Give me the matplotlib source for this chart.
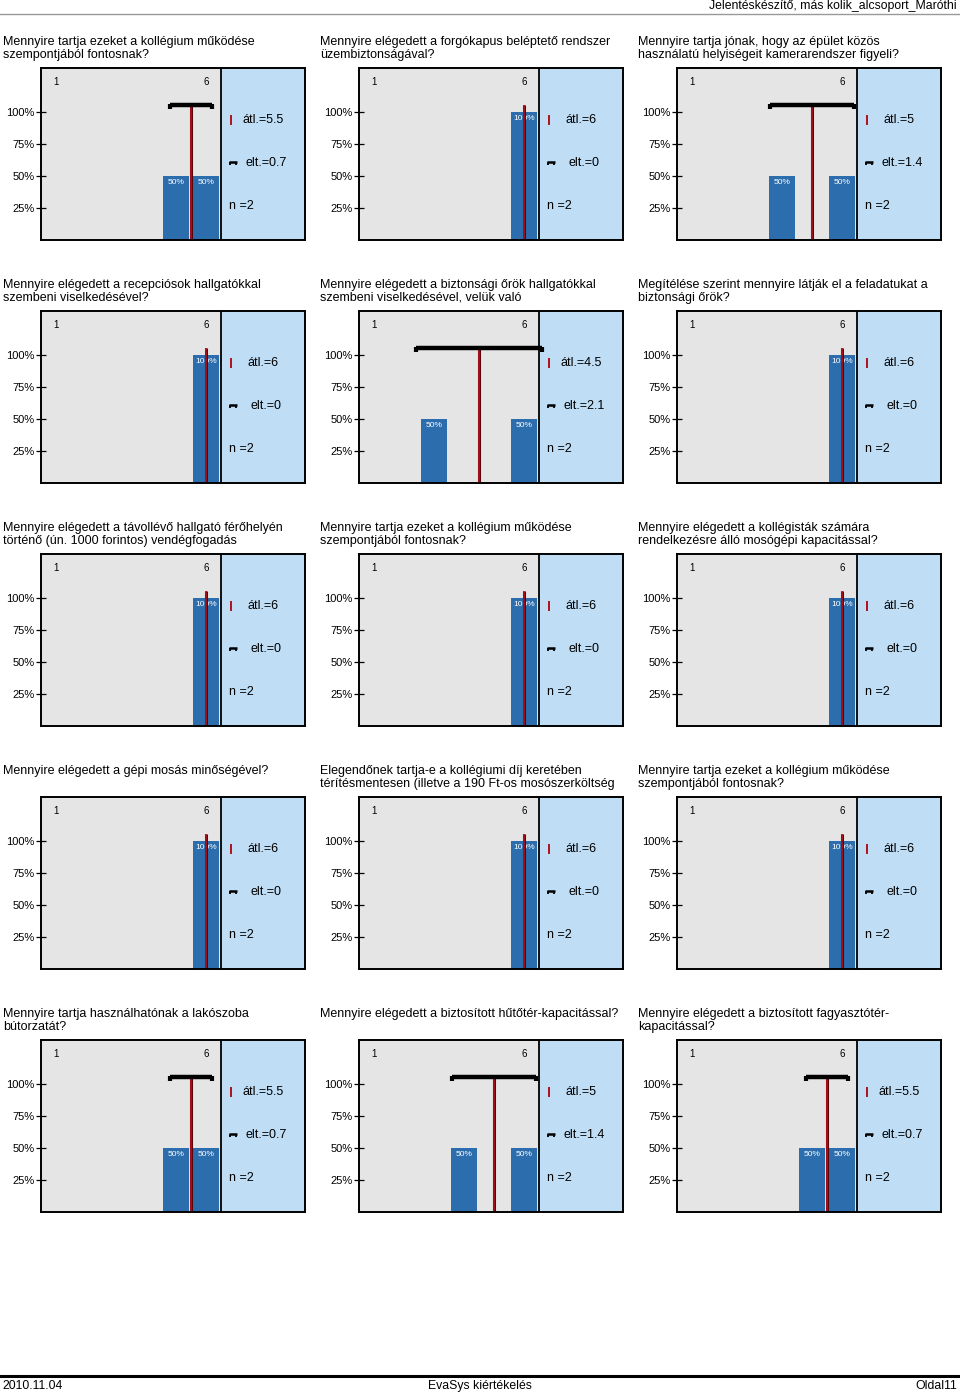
import matplotlib

matplotlib.use("Agg")

import matplotlib.pyplot as plt
from matplotlib.patches import Rectangle

plt.rcParams["font.family"] = ["Liberation Sans", "DejaVu Sans"]

# ---- adatok ----
TITLES = [
    "Mennyire tartja ezeket a kollégium működése\nszempontjából fontosnak?",
    "Mennyire elégedett a forgókapus beléptető rendszer\nüzembiztonságával?",
    "Mennyire tartja jónak, hogy az épület közös\nhasználatú helyiségeit kamerarendszer figyeli?",
    "Mennyire elégedett a recepciósok hallgatókkal\nszembeni viselkedésével?",
    "Mennyire elégedett a biztonsági őrök hallgatókkal\nszembeni viselkedésével, velük való",
    "Megítélése szerint mennyire látják el a feladatukat a\nbiztonsági őrök?",
    "Mennyire elégedett a távollévő hallgató férőhelyén\ntörténő (ún. 1000 forintos) vendégfogadás",
    "Mennyire tartja ezeket a kollégium működése\nszempontjából fontosnak?",
    "Mennyire elégedett a kollégisták számára\nrendelkezésre álló mosógépi kapacitással?",
    "Mennyire elégedett a gépi mosás minőségével?",
    "Elegendőnek tartja-e a kollégiumi díj keretében\ntérítésmentesen (illetve a 190 Ft-os mosószerköltség",
    "Mennyire tartja ezeket a kollégium működése\nszempontjából fontosnak?",
    "Mennyire tartja használhatónak a lakószoba\nbútorzatát?",
    "Mennyire elégedett a biztosított hűtőtér-kapacitással?",
    "Mennyire elégedett a biztosított fagyasztótér-\nkapacitással?",
]

SCALE = [1, 2, 3, 4, 5, 6]

# százalékos megoszlás az 1..6 skálán
PERCENTS = [
    [0, 0, 0, 0, 50, 50],
    [0, 0, 0, 0, 0, 100],
    [0, 0, 0, 50, 0, 50],
    [0, 0, 0, 0, 0, 100],
    [0, 0, 50, 0, 0, 50],
    [0, 0, 0, 0, 0, 100],
    [0, 0, 0, 0, 0, 100],
    [0, 0, 0, 0, 0, 100],
    [0, 0, 0, 0, 0, 100],
    [0, 0, 0, 0, 0, 100],
    [0, 0, 0, 0, 0, 100],
    [0, 0, 0, 0, 0, 100],
    [0, 0, 0, 0, 50, 50],
    [0, 0, 0, 50, 0, 50],
    [0, 0, 0, 0, 50, 50],
]

MEANS = [5.5, 6, 5, 6, 4.5, 6, 6, 6, 6, 6, 6, 6, 5.5, 5, 5.5]
SDS = [0.7, 0, 1.4, 0, 2.1, 0, 0, 0, 0, 0, 0, 0, 0.7, 1.4, 0.7]
NS = [2] * 15

YTICKS = [0.25, 0.50, 0.75, 1.00]
YTICKLABELS = ["25%", "50%", "75%", "100%"]

HEADER = "Jelentéskészítő, más kolik_alcsoport_Maróthi"
FOOTER_LEFT = "2010.11.04"
FOOTER_MID = "EvaSys kiértékelés"
FOOTER_RIGHT = "Oldal11"

# ---- stílus ----
W, H = 960, 1395
BAR_COLOR = "#2C6DAD"
GREY_BG = "#E5E5E5"
STAT_BG = "#BFDEF6"
MEAN_COLOR = "#B0101C"

COL_X = [41, 359, 677]
TITLE_X = [3, 320, 638]
ROW_Y = [68, 311, 554, 797, 1040]
BOX_W, BOX_H = 264, 172
PX_PER_UNIT = 30.0
YMAX = BOX_H / 128.0


def px_rect(x, y, w, h):
    return [x / W, 1 - (y + h) / H, w / W, h / H]


def draw_panel(fig, idx):
    row, col = divmod(idx, 3)
    x0, y0 = COL_X[col], ROW_Y[row]

    fig.text(TITLE_X[col] / W, 1 - (y0 - 32) / H, TITLES[idx], fontsize=9.0,
             ha="left", va="top", linespacing=1.08)

    ax = fig.add_axes(px_rect(x0, y0, BOX_W, BOX_H))
    xmax = 0.5 + BOX_W / PX_PER_UNIT
    ax.set_xlim(0.5, xmax)
    ax.set_ylim(0, YMAX)
    ax.add_patch(Rectangle((0.5, 0), 6.0, YMAX, facecolor=GREY_BG, edgecolor="none", zorder=0))
    ax.add_patch(Rectangle((6.5, 0), xmax - 6.5, YMAX, facecolor=STAT_BG, edgecolor="none", zorder=0))
    ax.axvline(6.5, color="black", lw=1.3, zorder=4)

    vals = [p / 100.0 for p in PERCENTS[idx]]
    ax.bar(SCALE, vals, width=26 / PX_PER_UNIT, color=BAR_COLOR, zorder=2)
    for s, v, p in zip(SCALE, vals, PERCENTS[idx]):
        if p > 0:
            ax.text(s, v - 0.022, f"{p}%", color="white", fontsize=6.0,
                    ha="center", va="top", zorder=3)

    ax.text(1, 1.234, "1", fontsize=7, ha="center", va="center")
    ax.text(6, 1.234, "6", fontsize=7, ha="center", va="center")

    mean, sd = MEANS[idx], SDS[idx]
    top = 1.055
    ax.plot([mean, mean], [0, top], color="#5a0008", lw=2.2, zorder=5, solid_capstyle="butt")
    ax.plot([mean, mean], [0, top], color=MEAN_COLOR, lw=1.2, zorder=6, solid_capstyle="butt")
    if sd > 0:
        lo, hi = mean - sd, mean + sd
        ax.plot([lo, hi], [top, top], color="black", lw=3.2, zorder=7, solid_capstyle="butt")
        for e in (lo, hi):
            ax.plot([e, e], [top + 0.01, top - 0.03], color="black", lw=3.0, zorder=7,
                    solid_capstyle="butt")

    # statisztika
    ax.plot([6.82, 6.82], [0.905, 0.97], color=MEAN_COLOR, lw=1.4, zorder=6)
    ax.text(7.9, 0.9375, f"átl.={mean:g}", fontsize=9.0, ha="center", va="center")
    ax.plot([6.78, 7.02], [0.608, 0.608], color="black", lw=1.8, zorder=6,
            solid_capstyle="butt")
    for e in (6.785, 7.015):
        ax.plot([e, e], [0.61, 0.585], color="black", lw=1.3, zorder=6,
                solid_capstyle="butt")
    ax.text(8.0, 0.60, f"elt.={sd:g}", fontsize=9.0, ha="center", va="center")
    ax.text(6.77, 0.266, f"n ={NS[idx]}", fontsize=9.0, ha="left", va="center")

    ax.set_xticks([])
    ax.set_yticks(YTICKS)
    ax.set_yticklabels(YTICKLABELS, fontsize=8.0)
    ax.tick_params(axis="y", direction="inout", length=7, width=0.9, pad=1)
    for sp in ax.spines.values():
        sp.set_linewidth(1.4)
        sp.set_zorder(8)


def main():
    fig = plt.figure(figsize=(W / 100, H / 100), dpi=100)
    fig.patch.set_facecolor("white")

    fig.text(957 / W, 1 - 6 / H, HEADER, fontsize=8.8, ha="right", va="center")
    fig.add_artist(plt.Line2D([0, 1], [1 - 14 / H, 1 - 14 / H], color="#999999", lw=1.0))

    for i in range(len(TITLES)):
        draw_panel(fig, i)

    fig.add_artist(plt.Line2D([0, 958 / W], [1 - 1376 / H, 1 - 1376 / H], color="black", lw=2.2))
    fy = 1 - 1386 / H
    fig.text(2 / W, fy, FOOTER_LEFT, fontsize=8.8, ha="left", va="center")
    fig.text(480 / W, fy, FOOTER_MID, fontsize=8.8, ha="center", va="center")
    fig.text(957 / W, fy, FOOTER_RIGHT, fontsize=8.8, ha="right", va="center")

    fig.savefig("out.png", dpi=100)
    plt.close(fig)


if __name__ == "__main__":
    main()
